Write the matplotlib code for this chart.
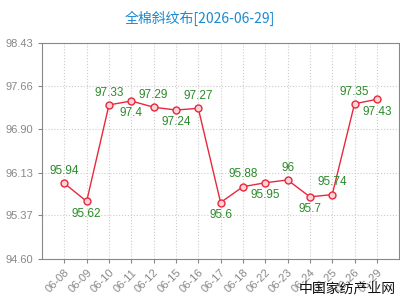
import matplotlib
matplotlib.use("Agg")
import matplotlib.pyplot as plt

plt.rcParams['font.family'] = ['Liberation Sans', 'Noto Sans CJK SC', 'DejaVu Sans']

dates = ["06-08", "06-09", "06-10", "06-11", "06-12", "06-15", "06-16", "06-17",
         "06-18", "06-22", "06-23", "06-24", "06-25", "06-26", "06-29"]
prices = [95.94, 95.62, 97.33, 97.4, 97.29, 97.24, 97.27, 95.6,
          95.88, 95.95, 96, 95.7, 95.74, 97.35, 97.43]
labels = ["95.94", "95.62", "97.33", "97.4", "97.29", "97.24", "97.27", "95.6",
          "95.88", "95.95", "96", "95.7", "95.74", "97.35", "97.43"]
yticks = [94.60, 95.37, 96.13, 96.90, 97.66, 98.43]
title = "全棉斜纹布[2026-06-29]"

# label above (1) or below (-1) the point
side = [1, -1, 1, -1, 1, -1, 1, -1, 1, -1, 1, -1, 1, 1, -1]

fig = plt.figure(figsize=(4, 3), dpi=100)
ax = fig.add_axes([0.105, 0.137, 0.893, 0.72])

x = list(range(len(dates)))
ax.plot(x, prices, color="#e8283c", lw=1, marker="o", ms=5,
        markerfacecolor="#fcd3d8", markeredgecolor="#e8283c", markeredgewidth=1, zorder=3)

for i in x:
    off = 4.5 if side[i] > 0 else -4.5
    ax.annotate(labels[i], (i, prices[i]), xytext=(0, off), textcoords="offset points",
                ha="center", va="bottom" if side[i] > 0 else "top",
                color="#2a8a2a", fontsize=8.5)

ax.set_xlim(-1, len(dates))
ax.set_ylim(yticks[0], yticks[-1])
ax.set_yticks(yticks)
ax.set_yticklabels(["%.2f" % v for v in yticks])
ax.set_xticks(x)
ax.set_xticklabels(dates, rotation=45, ha="right", rotation_mode="anchor")
ax.tick_params(colors="#888888", labelsize=8, length=3)
ax.tick_params(axis="x", pad=3)
ax.grid(True, color="#cccccc", linestyle=":", lw=0.8)
for s in ax.spines.values():
    s.set_color("#888888")

fig.text(0.5, 0.94, title, ha="center", va="center", color="#1a8ad0", fontsize=10,
         family=['Noto Sans CJK SC', 'DejaVu Sans'])
fig.text(0.99, 0.015, "中国家纺产业网", ha="right", va="bottom", color="#111111", fontsize=10,
         family=['Noto Sans CJK SC', 'DejaVu Sans'])

fig.savefig("out.png", dpi=100)
